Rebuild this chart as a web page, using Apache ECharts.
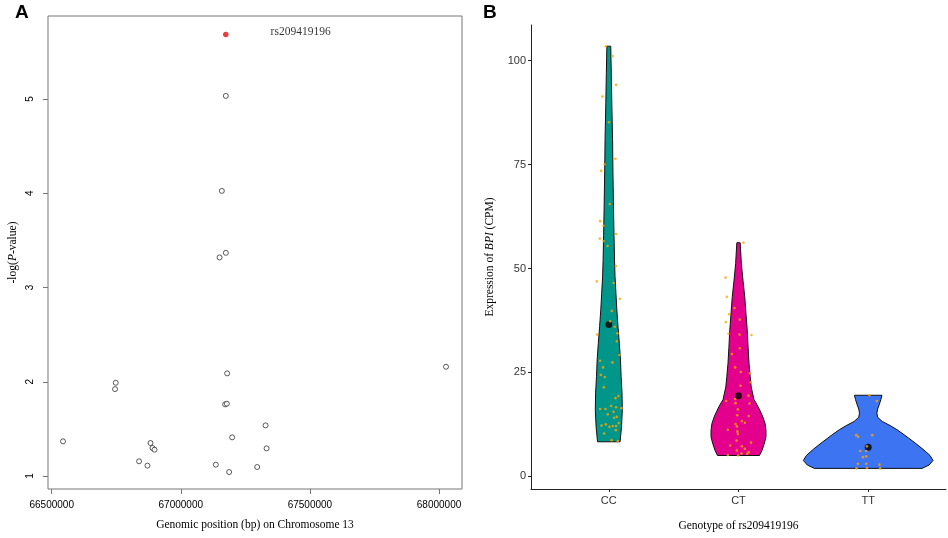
<!DOCTYPE html>
<html>
<head>
<meta charset="utf-8">
<script src="https://cdn.jsdelivr.net/npm/echarts@6/dist/echarts.min.js"></script>
<style>
html, body { margin: 0; padding: 0; background: #fff; }
#chart { width: 948px; height: 538px; }
</style>
</head>
<body>
<div id="chart"></div>
<script>
// ---- panel A : association scan ----
var snpPos = [67174400, 67158900, 67150000, 67174400, 66543800, 66748100, 66745400,
    67179500, 67171700, 67178300, 68027100, 66882600, 66890300, 66898100, 66838400,
    66870900, 67135700, 67187200, 67198800, 67328300, 67332200, 67295800];
var snpLogP = [5.033, 4.025, 3.319, 3.368, 1.368, 1.989, 1.922,
    2.089, 1.760, 1.767, 2.159, 1.350, 1.297, 1.279, 1.156,
    1.110, 1.120, 1.042, 1.410, 1.537, 1.293, 1.095];
var leadName = 'rs209419196';
var leadPos = 67174400;
var leadLogP = 5.684;
var posTicks = [66500000, 67000000, 67500000, 68000000];
var logPTicks = [1, 2, 3, 4, 5];

// ---- panel B : expression by genotype ----
var genotypes = ['CC', 'CT', 'TT'];
var exprTicks = [0, 25, 50, 75, 100];
var groupMeans = [36.5, 19.4, 7.0];

// violin outlines: expression value / half width (in category units)
var ccViolinY = [8.3, 11.9, 15.9, 20, 24, 28, 32, 36, 40, 44, 48, 52, 58, 65, 73, 81, 90, 97, 103.5];
var ccViolinW = [0.087, 0.098, 0.104, 0.102, 0.095, 0.090, 0.081, 0.071, 0.062, 0.055, 0.048, 0.044, 0.040, 0.036, 0.032, 0.029, 0.023, 0.019, 0.015];
var ctViolinY = [5.0, 6.3, 8, 9.5, 11, 12.7, 14.5, 16.7, 18.5, 21.5, 24, 27.2, 31, 35.2, 39, 43.2, 47, 51.2, 56.2];
var ctViolinW = [0.162, 0.182, 0.200, 0.212, 0.212, 0.205, 0.185, 0.152, 0.119, 0.098, 0.090, 0.081, 0.074, 0.067, 0.058, 0.048, 0.035, 0.022, 0.013];
var ttViolinY = [1.9, 2.7, 3.8, 5.0, 6.5, 8.2, 10, 11.2, 12.2, 13.2, 14.2, 15.2, 16.2, 17.2, 18.5, 19.5];
var ttViolinW = [0.415, 0.469, 0.500, 0.477, 0.423, 0.354, 0.277, 0.223, 0.169, 0.108, 0.073, 0.067, 0.073, 0.085, 0.098, 0.106];

// samples: expression and horizontal jitter
var ccExpr = [103.5, 101.1, 94.2, 91.4, 85.2, 76.4, 75.1, 73.5, 65.5, 61.4, 60.3, 58.3, 57.2, 56.6, 55.4, 50.6,
    46.9, 46.5, 42.7, 39.8, 37.3, 36.0, 34.4, 34.1, 32.5, 29.2, 27.8, 27.4, 26.2, 24.4, 23.9, 21.4,
    19.3, 18.8, 16.9, 16.6, 16.4, 16.2, 16.2, 15.5, 14.9, 14.3, 14.1, 12.8, 12.5, 12.2, 11.9, 12.1,
    12.1, 11.1, 10.3, 8.7, 8.5];
var ccJitter = [-0.023, 0.028, 0.056, -0.049, 0.002, 0.051, -0.033, -0.059, 0.008, -0.067, -0.041, 0.056, -0.069, -0.041, -0.010, 0.054,
    -0.092, 0.038, 0.085, 0.023, 0.010, 0.046, 0.067, -0.090, 0.062, 0.082, -0.067, 0.028, -0.044, -0.062, -0.031, -0.038,
    0.074, 0.051, 0.018, 0.056, 0.097, -0.067, -0.026, 0.036, -0.008, 0.062, 0.041, 0.077, -0.023, -0.056, 0.005, 0.031,
    0.056, 0.054, -0.036, 0.021, 0.069];
var ctExpr = [56.2, 47.8, 43.2, 40.5, 39.0, 37.7, 37.1, 34.3, 34.1, 34.0, 30.8, 29.4, 26.2, 25.1, 24.8, 22.6,
    21.8, 18.1, 18.6, 19.4, 17.6, 17.5, 16.1, 14.7, 14.5, 13.3, 12.9, 12.6, 12.0, 11.2, 10.8, 10.2,
    8.6, 8.1, 7.4, 7.2, 6.6, 6.2, 5.8, 5.5, 5.1, 5.0, 5.4];
var ctJitter = [0.038, -0.100, -0.090, -0.031, -0.072, 0.010, -0.098, -0.077, 0.008, 0.100, 0.010, -0.051, -0.026, 0.018, 0.087, 0.095,
    0.015, -0.095, -0.026, 0.077, -0.023, 0.085, -0.005, -0.010, 0.079, 0.026, 0.049, -0.023, -0.013, -0.082, -0.008, -0.005,
    -0.015, 0.097, -0.064, 0.026, 0.049, -0.013, 0.079, 0.023, -0.082, -0.003, 0.067];
var ttExpr = [19.5, 18.1, 9.9, 9.5, 9.9, 7.2, 6.1, 6.1, 4.6, 4.8, 3.0, 3.0, 2.8, 1.9, 2.0, 1.9];
var ttJitter = [0.010, 0.067, -0.092, -0.077, 0.031, -0.010, -0.062, -0.015, -0.041, -0.015, -0.079, -0.015, 0.087, -0.090, -0.010, 0.092];

var violins = [
    {y: ccViolinY, w: ccViolinW, color: '#00968A'},
    {y: ctViolinY, w: ctViolinW, color: '#E4008C'},
    {y: ttViolinY, w: ttViolinW, color: '#3D74F2'}
];

var snpData = snpPos.map(function (p, i) { return [p, snpLogP[i]]; });
var dots = [];
[[ccExpr, ccJitter], [ctExpr, ctJitter], [ttExpr, ttJitter]].forEach(function (g, k) {
    g[0].forEach(function (v, i) {
        dots.push([k + 1 + g[1][i], v]);
    });
});
var meanData = groupMeans.map(function (m, i) { return [i + 1, m]; });

var sans = 'Liberation Sans';
var serif = 'Liberation Serif';

function renderViolin(params, api) {
    var g = violins[params.dataIndex];
    var cx = api.value(0);
    var right = [], left = [];
    for (var i = 0; i < g.y.length; i++) {
        right.push(api.coord([cx + g.w[i], g.y[i]]));
        left.push(api.coord([cx - g.w[i], g.y[i]]));
    }
    return {
        type: 'polygon',
        shape: {points: right.concat(left.reverse())},
        style: {fill: g.color, stroke: '#111', lineWidth: 1}
    };
}

var myChart = echarts.init(document.getElementById('chart'));

var option = {
    animation: false,
    backgroundColor: '#fff',
    graphic: [
        {type: 'text', left: 15, top: 3, style: {text: 'A', font: 'bold 19px "Liberation Sans"', fill: '#000'}},
        {type: 'text', left: 483, top: 3, style: {text: 'B', font: 'bold 19px "Liberation Sans"', fill: '#000'}}
    ],
    grid: [
        {left: 48, top: 16, width: 414, height: 473, show: true, borderColor: '#777', borderWidth: 1, backgroundColor: 'transparent'},
        {left: 531, top: 25, width: 415, height: 464}
    ],
    xAxis: [
        {
            gridIndex: 0, type: 'value', min: 66485700, max: 68089000,
            name: 'Genomic position (bp) on Chromosome 13', nameLocation: 'middle', nameGap: 30,
            nameTextStyle: {fontFamily: serif, fontSize: 11.5, color: '#000'},
            axisLine: {show: false},
            axisTick: {show: true, length: 5, customValues: posTicks, lineStyle: {color: '#777'}},
            axisLabel: {
                customValues: posTicks, margin: 11, fontFamily: sans, fontSize: 10, color: '#000',
                formatter: function (v) { return String(v); }
            },
            splitLine: {show: false}
        },
        {
            gridIndex: 1, type: 'value', min: 0.4, max: 3.6,
            name: 'Genotype of rs209419196', nameLocation: 'middle', nameGap: 31,
            nameTextStyle: {fontFamily: serif, fontSize: 11.5, color: '#000'},
            axisLine: {show: true, onZero: false, lineStyle: {color: '#222', width: 1}},
            axisTick: {show: true, length: 3, customValues: [1, 2, 3], lineStyle: {color: '#222'}},
            axisLabel: {
                customValues: [1, 2, 3], margin: 6, fontFamily: sans, fontSize: 11, color: '#333',
                formatter: function (v) { return genotypes[Math.round(v) - 1]; }
            },
            splitLine: {show: false}
        }
    ],
    yAxis: [
        {
            gridIndex: 0, type: 'value', min: 0.862, max: 5.881,
            name: '-log({i|P}-value)', nameLocation: 'middle', nameGap: 29,
            nameTextStyle: {
                fontFamily: serif, fontSize: 11.5, color: '#000',
                rich: {i: {fontFamily: serif, fontSize: 11.5, fontStyle: 'italic', color: '#000'}}
            },
            axisLine: {show: false},
            axisTick: {show: true, length: 5, customValues: logPTicks, lineStyle: {color: '#777'}},
            axisLabel: {customValues: logPTicks, rotate: 90, margin: 13, fontFamily: sans, fontSize: 10, color: '#000'},
            splitLine: {show: false}
        },
        {
            gridIndex: 1, type: 'value', min: -3.06, max: 108.6,
            name: 'Expression of {i|BPI} (CPM)', nameLocation: 'middle', nameGap: 35,
            nameTextStyle: {
                fontFamily: serif, fontSize: 11.5, color: '#000',
                rich: {i: {fontFamily: serif, fontSize: 11.5, fontStyle: 'italic', color: '#000'}}
            },
            axisLine: {show: true, onZero: false, lineStyle: {color: '#222', width: 1}},
            axisTick: {show: true, length: 3, customValues: exprTicks, lineStyle: {color: '#222'}},
            axisLabel: {customValues: exprTicks, margin: 5, fontFamily: sans, fontSize: 11, color: '#333'},
            splitLine: {show: false}
        }
    ],
    series: [
        {
            type: 'scatter', xAxisIndex: 0, yAxisIndex: 0, data: snpData,
            symbol: 'circle', symbolSize: 5,
            itemStyle: {color: '#fff', borderColor: '#000', borderWidth: 0.8}
        },
        {
            type: 'scatter', xAxisIndex: 0, yAxisIndex: 0, data: [[leadPos, leadLogP]],
            symbol: 'circle', symbolSize: 5.5,
            itemStyle: {color: '#dd1111'},
            label: {
                show: true, position: 'right', distance: 42, offset: [0, -3],
                formatter: leadName, fontFamily: serif, fontSize: 11.5, color: '#000'
            }
        },
        {
            type: 'custom', xAxisIndex: 1, yAxisIndex: 1,
            data: [[1, 0], [2, 0], [3, 0]],
            renderItem: renderViolin, z: 1
        },
        {
            type: 'scatter', xAxisIndex: 1, yAxisIndex: 1, data: meanData,
            symbol: 'circle', symbolSize: 7, itemStyle: {color: '#000'}, z: 2
        },
        {
            type: 'scatter', xAxisIndex: 1, yAxisIndex: 1, data: dots,
            symbol: 'circle', symbolSize: 2.6, itemStyle: {color: '#FFA500'}, z: 3
        }
    ]
};

myChart.setOption(option);
</script>
</body>
</html>
